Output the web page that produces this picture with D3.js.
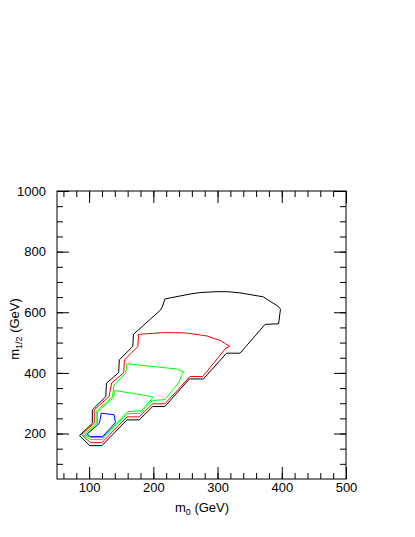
<!DOCTYPE html>
<html>
<head>
<meta charset="utf-8">
<script src="https://cdn.jsdelivr.net/npm/d3@7"></script>
<style>
  body { margin: 0; background: #fff; }
  svg { display: block; }
  text { font-family: "Liberation Sans", Arial, Helvetica, sans-serif; font-size: 13px; fill: #000; }
</style>
</head>
<body>
<svg id="chart"></svg>
<script>
// contour outlines, [m0, m1/2] in GeV
const blackContour = [
  [85,193],[105,234],[105,278],[126,322],[127,366],[146,401],[147,443],[168,487],[169,527],
  [211,607],[214,618],[218,644],[257,660],[273,665],[299,668],[314,668],[335,664],[371,651],
  [394,620],[398,610],[395,562],[374,560],[335,465],[314,465],[278,380],[256,380],[218,289],
  [199,289],[178,245],[159,245],[120,160],[101,160]
];
const redContour = [
  [88,197],[108,234],[108,278],[131,322],[135,366],[154,401],[155,443],[176,487],[177,527],
  [216,533],[250,532],[283,522],[305,506],[319,487],[313,482],[277,388],[257,388],[218,298],
  [199,298],[178,255],[159,255],[120,170],[102,170]
];
const greenOuter = [
  [91,196],[111,232],[111,274],[136,320],[139,360],[157,399],[159,430],[236,413],[247,404],
  [239,366],[218,312],[199,309],[180,267],[159,265],[120,180],[102,180]
];
const greenInner = [
  [94,195],[113,230],[113,272],[138,318],[140,342],[198,322],[200,319],[181,275],[160,272],
  [121,187],[103,187]
];
const blueContour = [
  [97,198],[116,234],[119,267],[139,262],[141,236],[121,190],[102,190]
];

const contours = [
  { pts: blackContour, color: "#000000" },
  { pts: redContour, color: "#ff0000" },
  { pts: greenOuter, color: "#00ff00" },
  { pts: greenInner, color: "#00ff00" },
  { pts: blueContour, color: "#0000ff" }
];

const xMajor = [100, 200, 300, 400, 500];
const xMinor = d3.range(60, 500, 20);
const yMajor = [200, 400, 600, 800, 1000];
const yMinor = d3.range(100, 1000, 50);

const width = 415, height = 537;
const margin = { left: 57, right: 346, top: 191, bottom: 479 };

const svg = d3.select("#chart").attr("width", width).attr("height", height);

const x = d3.scaleLinear().domain([50, 500]).range([margin.left, margin.right]);
const y = d3.scaleLinear().domain([50, 1000]).range([margin.bottom, margin.top]);

// contours
const line = d3.line().x(d => x(d[0])).y(d => y(d[1])).curve(d3.curveLinearClosed);
svg.append("g").selectAll("path")
  .data(contours)
  .enter().append("path")
  .attr("d", d => line(d.pts))
  .attr("fill", "none")
  .attr("stroke", d => d.color)
  .attr("stroke-width", 1);

// ticks, all pointing inward
function styleAxis(g) {
  g.attr("font-size", null).attr("font-family", null);
  g.select(".domain").remove();
  g.selectAll(".tick line").attr("stroke", "#000").attr("stroke-width", 1);
  g.selectAll("text").attr("fill", "#000");
}

svg.append("g").attr("transform", `translate(0,${margin.bottom})`)
  .call(d3.axisBottom(x).tickValues(xMinor).tickSize(-6).tickFormat(""))
  .call(styleAxis);
svg.append("g").attr("transform", `translate(0,${margin.bottom})`)
  .call(d3.axisBottom(x).tickValues(xMajor).tickSize(-12).tickPadding(4).tickFormat(d3.format("d")))
  .call(styleAxis);
svg.append("g").attr("transform", `translate(0,${margin.top})`)
  .call(d3.axisTop(x).tickValues(xMinor).tickSize(-6).tickFormat(""))
  .call(styleAxis);
svg.append("g").attr("transform", `translate(0,${margin.top})`)
  .call(d3.axisTop(x).tickValues(xMajor).tickSize(-12).tickFormat(""))
  .call(styleAxis);

svg.append("g").attr("transform", `translate(${margin.left},0)`)
  .call(d3.axisLeft(y).tickValues(yMinor).tickSize(-6).tickFormat(""))
  .call(styleAxis);
svg.append("g").attr("transform", `translate(${margin.left},0)`)
  .call(d3.axisLeft(y).tickValues(yMajor).tickSize(-12).tickPadding(11).tickFormat(d3.format("d")))
  .call(styleAxis);
svg.append("g").attr("transform", `translate(${margin.right},0)`)
  .call(d3.axisRight(y).tickValues(yMinor).tickSize(-6).tickFormat(""))
  .call(styleAxis);
svg.append("g").attr("transform", `translate(${margin.right},0)`)
  .call(d3.axisRight(y).tickValues(yMajor).tickSize(-12).tickFormat(""))
  .call(styleAxis);

// frame
svg.append("rect")
  .attr("x", margin.left).attr("y", margin.top)
  .attr("width", margin.right - margin.left).attr("height", margin.bottom - margin.top)
  .attr("fill", "none").attr("stroke", "#000").attr("stroke-width", 1);

// axis titles
const xt = svg.append("text").attr("x", 202).attr("y", 512).attr("text-anchor", "middle");
xt.append("tspan").text("m");
xt.append("tspan").attr("font-size", "9px").attr("dy", 3).text("0");
xt.append("tspan").attr("dy", -3).text(" (GeV)");

const yt = svg.append("text")
  .attr("transform", "translate(19,329) rotate(-90)")
  .attr("text-anchor", "middle");
yt.append("tspan").text("m");
yt.append("tspan").attr("font-size", "9px").attr("dy", 3).text("1/2");
yt.append("tspan").attr("dy", -3).text(" (GeV)");
</script>
</body>
</html>
